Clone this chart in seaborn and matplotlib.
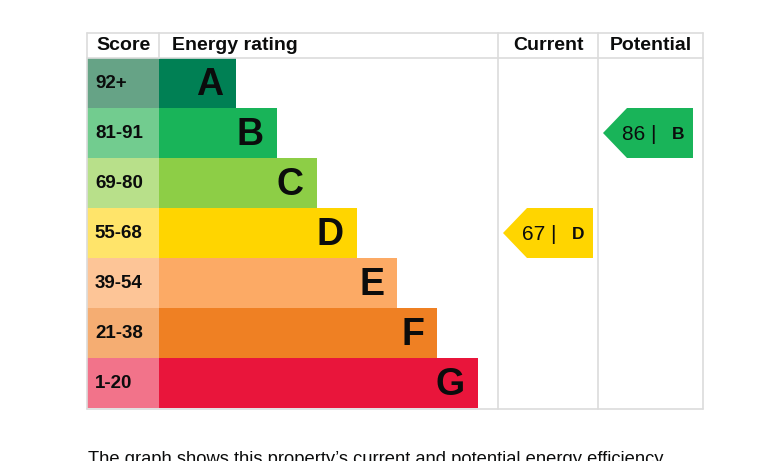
import matplotlib
matplotlib.use("Agg")
import matplotlib.pyplot as plt
import seaborn as sns
from matplotlib.patches import Polygon

# EPC bands
bands = ["A", "B", "C", "D", "E", "F", "G"]
scores = ["92+", "81-91", "69-80", "55-68", "39-54", "21-38", "1-20"]
bar_length = [77, 118, 158, 198, 238, 278, 319]
band_colors = ["#008054", "#19b459", "#8dce46", "#ffd500", "#fcaa65", "#ef8023", "#e9153b"]
score_colors = ["#66a386", "#72cc8f", "#b8e08a", "#ffe46a", "#fdc597", "#f5ad72", "#f2738a"]

current_score, current_band = 67, "D"
potential_score, potential_band = 86, "B"

W, H = 773, 461
TEXT = "#0b0c0c"
LINE = "#dcdcdc"

sns.set_style("white")
plt.rcParams["font.family"] = ["Liberation Sans", "DejaVu Sans"]

fig = plt.figure(figsize=(W / 100, H / 100), dpi=100)


def px_axes(x0, y0, x1, y1, **kw):
    return fig.add_axes([x0 / W, 1 - y1 / H, (x1 - x0) / W, (y1 - y0) / H], **kw)


top, bottom = 33, 408
ylim = (6.5, -1.0)

# score column
ax_score = px_axes(87, top, 159, bottom)
sns.barplot(x=[1] * len(bands), y=bands, hue=bands, palette=score_colors,
            width=1, orient="h", legend=False, saturation=1, linewidth=0, ax=ax_score)
ax_score.set_xlim(0, 1)
ax_score.set_ylim(*ylim)
for i, s in enumerate(scores):
    ax_score.text(0.11, i, s, ha="left", va="center", fontsize=13.5,
                  fontweight="bold", color=TEXT)
ax_score.text(0.5, -0.75, "Score", ha="center", va="center", fontsize=14,
              fontweight="bold", color=TEXT)
ax_score.axis("off")

# rating bars
ax_bar = px_axes(159, top, 498, bottom)
sns.barplot(x=bar_length, y=bands, hue=bands, palette=band_colors,
            width=1, orient="h", legend=False, saturation=1, linewidth=0, ax=ax_bar)
ax_bar.set_xlim(0, 339)
ax_bar.set_ylim(*ylim)
for i, (b, l) in enumerate(zip(bands, bar_length)):
    ax_bar.text(l - 13, i + 0.03, b, ha="right", va="center", fontsize=27,
                fontweight="bold", color=TEXT)
ax_bar.text(13, -0.75, "Energy rating", ha="left", va="center", fontsize=14,
            fontweight="bold", color=TEXT)
ax_bar.axis("off")


def arrow_column(x0, x1, title, score, band):
    ax = px_axes(x0, top, x1, bottom)
    ax.set_xlim(0, x1 - x0)
    ax.set_ylim(*ylim)
    r = bands.index(band)
    col = band_colors[r]
    pts = [(5, r), (29, r - 0.5), (95, r - 0.5), (95, r + 0.5), (29, r + 0.5)]
    ax.add_patch(Polygon(pts, closed=True, facecolor=col, edgecolor="none"))
    ax.text(24, r + 0.02, f"{score} |", ha="left", va="center", fontsize=15, color=TEXT)
    ax.text(74, r + 0.02, band, ha="left", va="center", fontsize=12.5,
            fontweight="bold", color=TEXT)
    ax.text((x1 - x0) / 2, -0.75, title, ha="center", va="center", fontsize=14,
            fontweight="bold", color=TEXT)
    ax.axis("off")


arrow_column(498, 598, "Current", current_score, current_band)
arrow_column(598, 703, "Potential", potential_score, potential_band)

# table grid
frame = fig.add_axes([0, 0, 1, 1], zorder=5)
frame.patch.set_alpha(0)
frame.set_xlim(0, W)
frame.set_ylim(H, 0)
frame.axis("off")
lw = 1.2
for y in (top, 58, 409):
    frame.plot([87, 703], [y, y], color=LINE, lw=lw)
for x in (87, 498, 598, 703):
    frame.plot([x, x], [top, 409], color=LINE, lw=lw)
frame.plot([159, 159], [top, 58], color=LINE, lw=lw)

# caption under the chart, cut by the bottom edge as in the source
fig.text(88 / W, 1 - 464 / H,
         "The graph shows this property\u2019s current and potential energy efficiency",
         ha="left", va="baseline", fontsize=13.2, color=TEXT)

fig.savefig("out.png", dpi=100)
